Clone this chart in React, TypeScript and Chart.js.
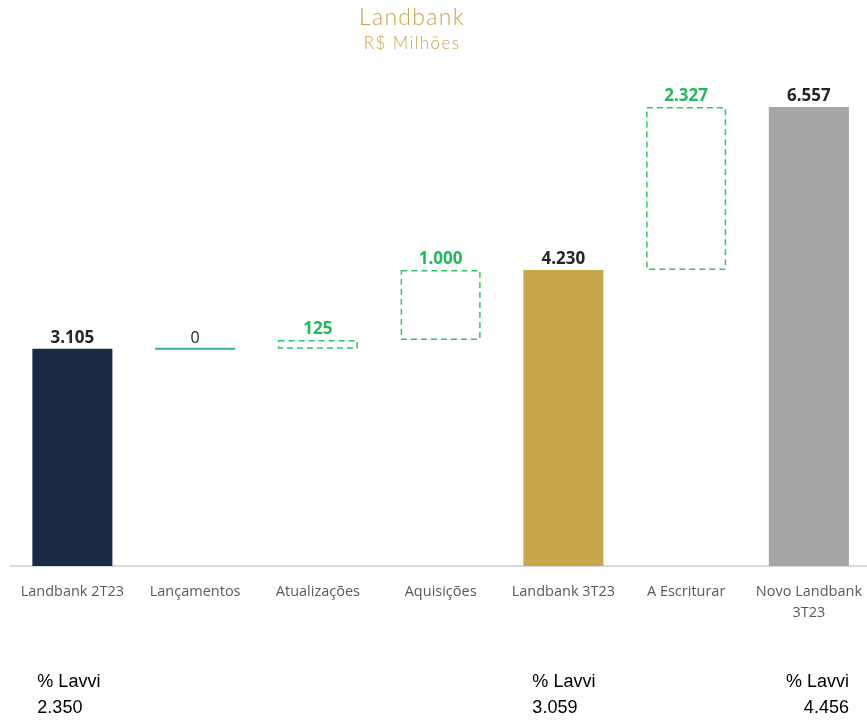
import React, { useEffect, useRef } from "react";
import { Chart, registerables } from "chart.js";

Chart.register(...registerables);

const categories: (string | string[])[] = [
  "Landbank 2T23",
  "Lançamentos",
  "Atualizações",
  "Aquisições",
  "Landbank 3T23",
  "A Escriturar",
  ["Novo Landbank", "3T23"],
];
const values: number[] = [3105, 0, 125, 1000, 4230, 2327, 6557];
const kinds: string[] = ["total", "delta", "delta", "delta", "total", "delta", "total"];
const totalColors: string[] = ["#1B2A44", "", "", "", "#C8A64B", "", "#A6A6A6"];
const lavviIndex: number[] = [0, 4, 6];
const lavviLabel: string[] = ["% Lavvi", "% Lavvi", "% Lavvi"];
const lavviValues: string[] = ["2.350", "3.059", "4.456"];
const lavviAlign: string[] = ["left", "left", "right"];

const fmt = (n: number) => String(n).replace(/\B(?=(\d{3})+(?!\d))/g, ".");

const GREEN = "#2EC66A";
const TEAL = "#3AAB96";

function buildRanges(): [number, number][] {
  let run = 0;
  return values.map((v, i) => {
    if (kinds[i] === "total") {
      run = v;
      return [0, v] as [number, number];
    }
    const r: [number, number] = [run, run + v];
    run += v;
    return r;
  });
}

const waterfallPlugin = {
  id: "waterfallDecor",
  afterDatasetsDraw(chart: any) {
    const ctx = chart.ctx as CanvasRenderingContext2D;
    const meta = chart.getDatasetMeta(0);
    meta.data.forEach((el: any, i: number) => {
      const { x, y, base, width } = el.getProps(["x", "y", "base", "width"], true);
      const top = Math.min(y, base);
      const bottom = Math.max(y, base);
      ctx.save();
      if (kinds[i] === "delta") {
        if (values[i] === 0) {
          ctx.strokeStyle = TEAL;
          ctx.lineWidth = 2;
          ctx.beginPath();
          ctx.moveTo(x - width / 2, top);
          ctx.lineTo(x + width / 2, top);
          ctx.stroke();
        } else {
          ctx.strokeStyle = GREEN;
          ctx.lineWidth = 1.5;
          ctx.setLineDash([6, 4]);
          ctx.strokeRect(x - width / 2 + 0.75, top + 0.75, width - 1.5, bottom - top - 1.5);
        }
      }
      ctx.restore();
      ctx.save();
      ctx.font = "bold 17px 'Open Sans', sans-serif";
      ctx.textAlign = "center";
      ctx.textBaseline = "bottom";
      const isDelta = kinds[i] === "delta" && values[i] !== 0;
      ctx.fillStyle = isDelta ? "#22B85C" : "#262626";
      if (kinds[i] === "delta" && values[i] === 0) {
        ctx.font = "16px 'Open Sans', sans-serif";
      }
      ctx.fillText(fmt(values[i]), x, top - 2);
      ctx.restore();
    });

    // % Lavvi annotations
    ctx.save();
    ctx.fillStyle = "#000000";
    ctx.font = "18px 'Liberation Sans', Arial, sans-serif";
    ctx.textBaseline = "alphabetic";
    lavviIndex.forEach((idx, k) => {
      const el = meta.data[idx];
      const { x, width } = el.getProps(["x", "width"], true);
      if (lavviAlign[k] === "right") {
        ctx.textAlign = "right";
        const rx = x + width / 2;
        ctx.fillText(lavviLabel[k], rx, 687);
        ctx.fillText(lavviValues[k], rx, 713);
      } else {
        ctx.textAlign = "left";
        const lx = x - width / 2 + (k === 0 ? 5 : 9);
        ctx.fillText(lavviLabel[k], lx, 687);
        ctx.fillText(lavviValues[k], lx, 713);
      }
    });
    ctx.restore();
  },
};

export default function App() {
  const canvasRef = useRef<HTMLCanvasElement | null>(null);

  useEffect(() => {
    if (!canvasRef.current) return;
    const ranges = buildRanges();
    const chart = new Chart(canvasRef.current, {
      type: "bar",
      data: {
        labels: categories as any,
        datasets: [
          {
            data: ranges as any,
            backgroundColor: kinds.map((k, i) => (k === "total" ? totalColors[i] : "rgba(0,0,0,0)")),
            borderWidth: 0,
            barPercentage: 0.652,
            categoryPercentage: 1,
          },
        ],
      },
      options: {
        animation: false,
        responsive: false,
        maintainAspectRatio: false,
        layout: { padding: { left: 11, right: 0, top: 76, bottom: 0 } },
        plugins: {
          legend: { display: false },
          tooltip: { enabled: false },
          title: { display: false },
        },
        scales: {
          x: {
            grid: { display: false, drawTicks: false },
            border: { display: true, color: "#D9D9D9", width: 2 },
            ticks: {
              color: "#595959",
              font: { family: "'Open Sans', sans-serif", size: 14.5, lineHeight: 1.45 },
              padding: 15,
              maxRotation: 0,
              autoSkip: false,
            },
            afterFit: (scale: any) => {
              scale.height = 154;
            },
          },
          y: {
            display: false,
            min: 0,
            max: 7000,
          },
        },
      },
      plugins: [waterfallPlugin],
    });
    return () => chart.destroy();
  }, []);

  return (
    <div
      style={{
        position: "absolute",
        left: 0,
        top: 0,
        width: 867,
        height: 720,
        overflow: "hidden",
        background: "#fff",
      }}
    >
      <div
        style={{
          position: "absolute",
          left: 0,
          top: 5,
          width: 824,
          textAlign: "center",
          color: "#C9A54A",
          fontFamily: "Lato, 'Open Sans', sans-serif",
          fontWeight: 300,
          lineHeight: 1,
          zIndex: 1,
        }}
      >
        <div style={{ fontSize: 23, letterSpacing: 1.3 }}>Landbank</div>
        <div style={{ fontSize: 17, letterSpacing: 1.4, marginTop: 6 }}>R$ Milhões</div>
      </div>
      <canvas ref={canvasRef} width={877} height={720} style={{ display: "block" }} />
    </div>
  );
}
